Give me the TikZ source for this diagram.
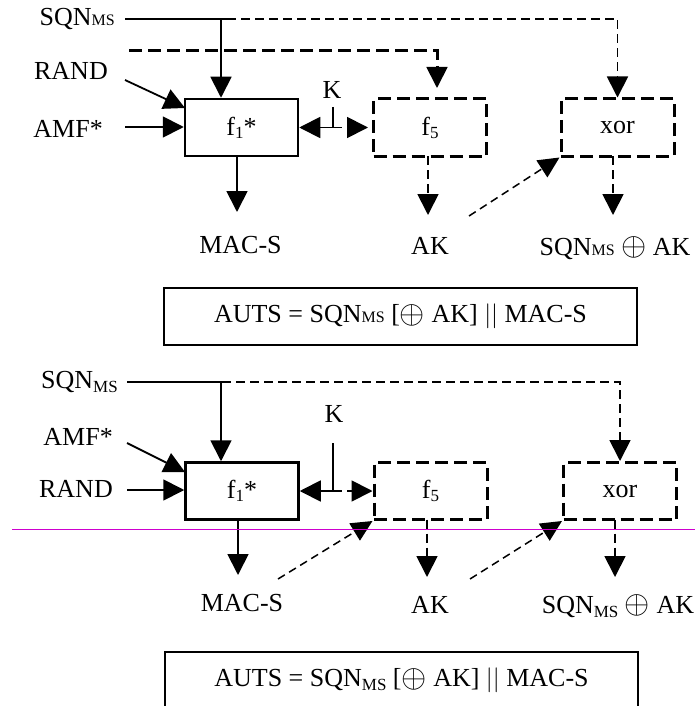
\documentclass[tikz,border=0pt]{standalone}
\usepackage{fontspec}
\setmainfont{Liberation Serif}
\usetikzlibrary{arrows.meta}
\definecolor{rulemag}{RGB}{206,0,206}
\newcommand{\mymsT}{{\fontsize{16}{16}\selectfont MS}}
\newcommand{\mymsB}{\raisebox{-4pt}{\fontsize{17}{17}\selectfont MS}}
\newcommand{\mysubnum}[1]{\raisebox{-3pt}{\fontsize{17}{17}\selectfont #1}}
\newcommand{\myxor}{\raisebox{-0.5pt}{\scalebox{1.3}{$\oplus$}}}
\tikzset{
  x=1pt, y=-1pt,
  lbl/.style={inner sep=0pt, font=\fontsize{26}{30}\selectfont},
  fbox/.style={draw, line width=2.5pt, minimum width=113pt, minimum height=57pt, inner sep=0pt, font=\fontsize{26}{30}\selectfont},
  dbox/.style={fbox, line width=3pt, dash pattern=on 13pt off 6pt},
  arr/.style={-{Triangle[length=21pt,width=21pt]}, line width=1.8pt},
  darr/.style={arr, dash pattern=on 9pt off 5pt},
  thinline/.style={line width=1.8pt},
  thickdash/.style={line width=3pt, dash pattern=on 13pt off 6pt},
  diagdash/.style={-{Triangle[length=21pt,width=20pt]}, line width=1.5pt, dash pattern=on 8pt off 5pt},
  autsbox/.style={draw, line width=2.5pt, minimum width=473pt, minimum height=57pt, inner sep=0pt, font=\fontsize{26}{30}\selectfont},
}
\begin{document}
\begin{tikzpicture}
\useasboundingbox (0,0) rectangle (695,706);

% ================= TOP DIAGRAM =================
\node[fbox] (f1T) at (241.5,127.5) {f\mysubnum{1}*};
\node[dbox] (f5T) at (430,127.5) {f\mysubnum{5}};
\node[dbox] (xorT) at (617.5,127.5) {xor};

\node[lbl, anchor=base east] (sqnT) at (115,26) {SQN\mymsT};
\node[lbl, anchor=base east] (randT) at (108,80) {RAND};
\node[lbl, anchor=base east] (amfT) at (103,137) {AMF*};
\node[lbl, anchor=base] (kT) at (332,99) {K};
\node[lbl, anchor=base] (macT) at (240.5,253) {MAC-S};
\node[lbl, anchor=base] (akT) at (430,254) {AK};
\node[lbl, anchor=base] (sxT) at (615,255) {SQN\mymsT{} \myxor{} AK};
\node[autsbox] (autsT) at (400.5,316.5) {AUTS = SQN\mymsT{} [\myxor{} AK] $||$ MAC-S};

\coordinate (sqnTs) at (125,19);
\coordinate (sqnTj) at (221,19);
\coordinate (sqnTe) at (227,19);
\draw[thinline] (sqnTs) -- (sqnTe);
\draw[arr] (sqnTj) -- (sqnTj |- f1T.north);
\draw[darr] (sqnTe) -| (xorT.north);

\coordinate (akinTs) at (129,51);
\coordinate (akinTe) at (437,88);
\draw[thickdash] (akinTs) -| (437,70);
\draw[arr] (437,66) -- (akinTe);

\coordinate (randTs) at (125,80);
\draw[arr] (randTs) -- (185,108);
\coordinate (amfTs) at (125,127);
\draw[arr] (amfTs) -- (f1T.west |- amfTs);

\coordinate (kTt) at (333,107);
\coordinate (kTj) at (333,127.5);
\draw[line width=1.5pt] (kTt) -- (kTj);
\draw[arr] (kTj) -- (f1T.east);
\draw[darr, shorten >=4pt] (kTj) -- (f5T.west);

\draw[arr] (237,156) -- (237,212);
\draw[darr] (428,156) -- (428,215);
\coordinate (diagTs) at (469,216);
\draw[diagdash] (diagTs) -- (xorT.south west);
\draw[darr] (613,156) -- (613,215);

% ================= BOTTOM DIAGRAM =================
\node[fbox] (f1B) at (242,491) {f\mysubnum{1}*};
\node[dbox] (f5B) at (430.5,491) {f\mysubnum{5}};
\node[dbox] (xorB) at (620,491) {xor};

\node[lbl, anchor=base east] (sqnB) at (118,388) {SQN\mymsB};
\node[lbl, anchor=base east] (amfB) at (113,445) {AMF*};
\node[lbl, anchor=base east] (randB) at (113,497) {RAND};
\node[lbl, anchor=base] (kB) at (334,422) {K};
\node[lbl, anchor=base] (macB) at (242,611) {MAC-S};
\node[lbl, anchor=base] (akB) at (430,613) {AK};
\node[lbl, anchor=base] (sxB) at (618,613) {SQN\mymsB{} \myxor{} AK};
\node[autsbox] (autsB) at (401.5,680.5) {AUTS = SQN\mymsB{} [\myxor{} AK] $||$ MAC-S};

\coordinate (sqnBs) at (127,382);
\coordinate (sqnBj) at (221,382);
\coordinate (sqnBe) at (222,382);
\draw[thinline] (sqnBs) -- (sqnBe);
\draw[arr] (sqnBj) -- (sqnBj |- f1B.north);
\draw[darr] (sqnBe) -| (xorB.north);

\coordinate (amfBs) at (127,443);
\draw[arr] (amfBs) -- (185,472);
\coordinate (randBs) at (127,490);
\draw[arr] (randBs) -- (f1B.west |- randBs);

\coordinate (kBt) at (333,443);
\coordinate (kBj) at (333,491);
\draw[line width=1.5pt] (kBt) -- (kBj);
\draw[arr] (kBj) -- (f1B.east);
\draw[darr] (kBj) -- (f5B.west);

\draw[arr] (238,519.5) -- (238,575);
\coordinate (diagBs1) at (278,579);
\draw[diagdash] (diagBs1) -- (f5B.south west);
\draw[darr] (427,519.5) -- (427,577);
\coordinate (diagBs2) at (470,579);
\draw[diagdash] (diagBs2) -- (xorB.south west);
\draw[darr] (615,519.5) -- (615,577);

% separator line
\coordinate (rulel) at (12,529.5);
\coordinate (ruler) at (695,529.5);
\draw[rulemag, line width=1pt] (rulel) -- (ruler);
\end{tikzpicture}
\end{document}
